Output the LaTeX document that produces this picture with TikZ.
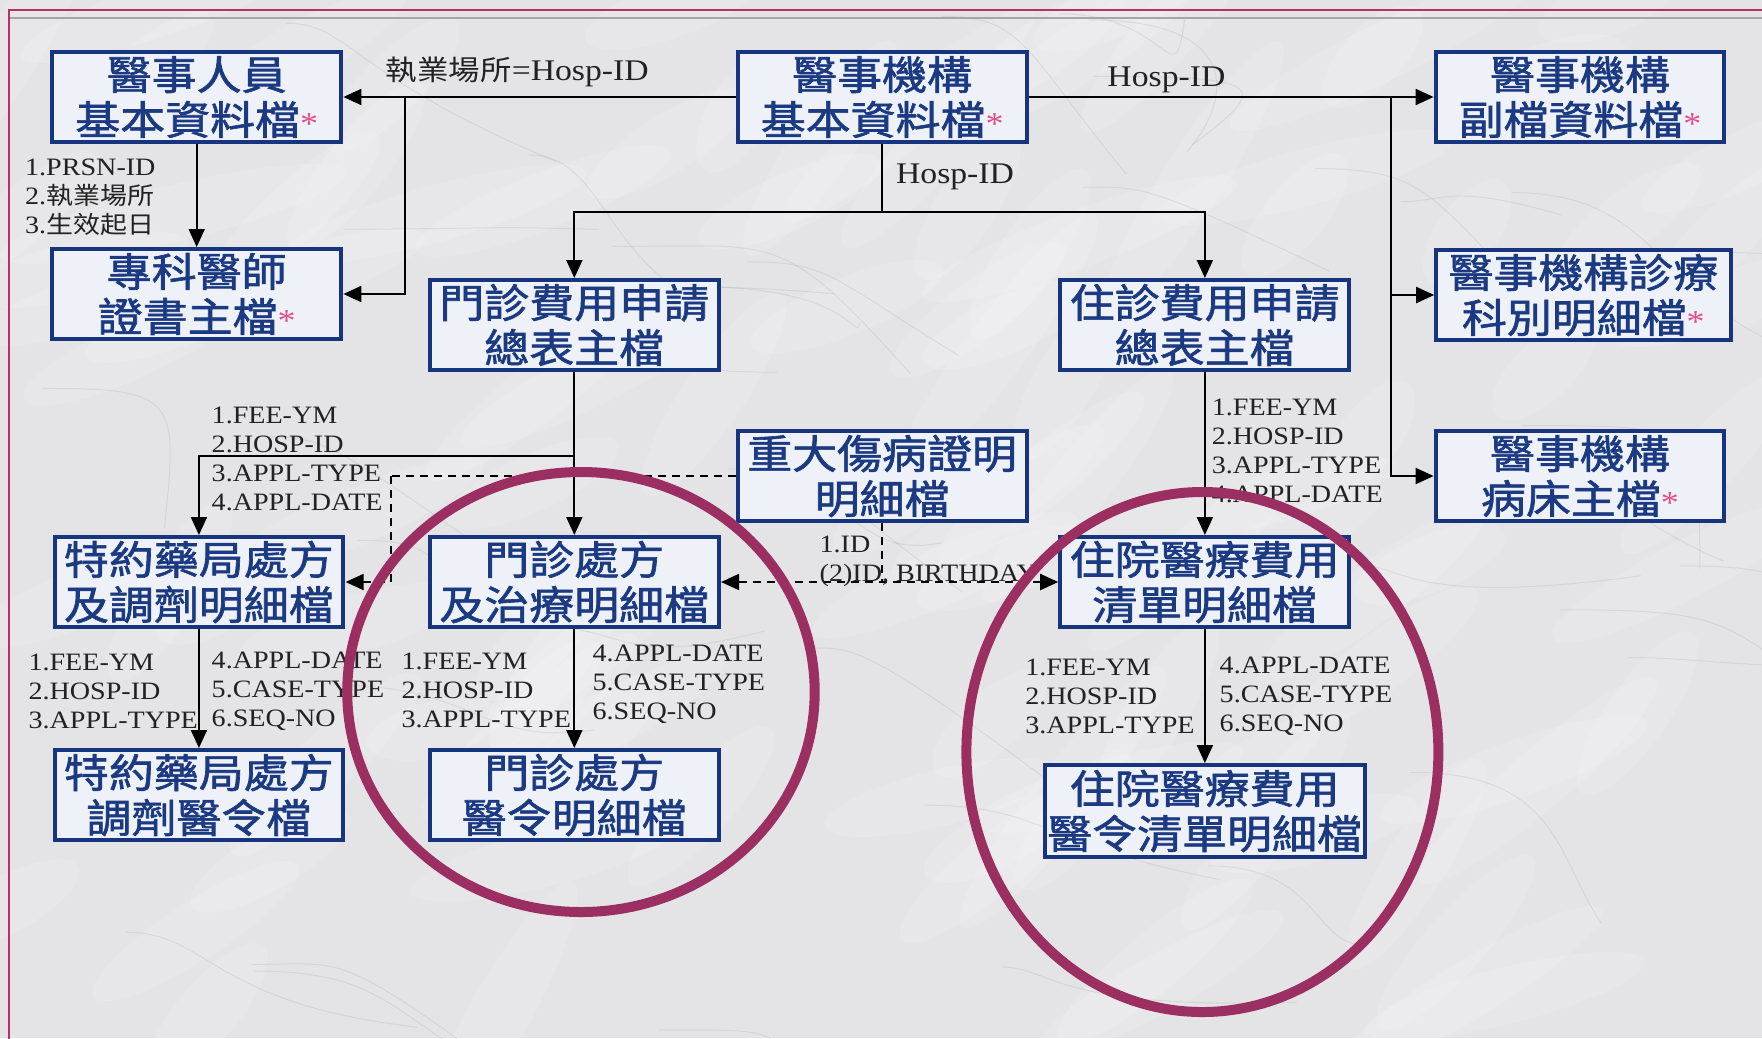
\documentclass[tikz,border=0pt]{standalone}
\usepackage{fontspec}
\usetikzlibrary{arrows.meta}
\setmainfont{Liberation Serif}
\newfontfamily\cjkb{Noto Sans CJK TC}[FakeBold=1.5]
\newfontfamily\cjkl{Noto Sans CJK TC}
\definecolor{boxblue}{HTML}{17357E}
\definecolor{boxfill}{HTML}{EEF2F8}
\definecolor{boxtext}{HTML}{1B3A82}
\definecolor{starpink}{HTML}{E0508A}
\definecolor{circcol}{HTML}{9B2F62}
\definecolor{bgcol}{HTML}{E4E4E7}
\definecolor{framecol}{HTML}{B8306A}
\definecolor{lblcol}{HTML}{222222}
\newcommand\pinkstar{{\color{starpink}\rmfamily\fontsize{16pt}{16pt}\selectfont *}}
\begin{document}
\begin{tikzpicture}[x=0.5pt,y=-0.5pt,xscale=1.1237,
  every node/.append style={transform shape},
  box/.style={draw=boxblue, line width=2pt, fill=boxfill, text=boxtext,
    font=\cjkb\fontsize{20pt}{22.5pt}\selectfont, align=center,
    minimum width=128.5pt, minimum height=45pt, inner sep=0pt},
  lbl/.style={font=\fontsize{12.5pt}{14.5pt}\selectfont, align=left,
    inner sep=0pt, anchor=west, text=lblcol},
  hid/.style={lbl, font=\fontsize{15pt}{17pt}\selectfont},
  conn/.style={draw=black, line width=1pt},
  arr/.style={conn, -{Triangle[length=9pt,width=8pt]}},
  arrb/.style={conn, {Triangle[length=9pt,width=8pt]}-{Triangle[length=9pt,width=8pt]}},
  dsh/.style={dash pattern=on 4pt off 3pt},
  circ/.style={draw=circcol, line width=5pt}]
\fill[bgcol] (0,0) rectangle (1568,1038);
\useasboundingbox (0,0) rectangle (1568,1038);
% marble texture
\pgfmathsetseed{11}
\foreach \i in {1,...,110}{
  \pgfmathsetmacro\xa{rnd*1568}
  \pgfmathsetmacro\ya{rnd*1038}
  \pgfmathsetmacro\ang{rnd*50+15}
  \pgfmathsetmacro\rx{rnd*50+30}
  \fill[white, opacity=0.14, rotate around={\ang:(\xa,\ya)}] (\xa,\ya) ellipse [x radius=\rx pt, y radius=14pt];
}
\foreach \i in {1,...,40}{
  \pgfmathsetmacro\xa{rnd*1568}
  \pgfmathsetmacro\ya{rnd*1038}
  \pgfmathsetmacro\xb{\xa+rnd*120+40}
  \pgfmathsetmacro\yb{\ya+rnd*120-20}
  \pgfmathsetmacro\xc{\xa+rnd*200+80}
  \pgfmathsetmacro\yc{\ya+rnd*160}
  \draw[gray, opacity=0.15, line width=0.5pt] (\xa,\ya) .. controls (\xb,\ya) and (\xb,\yb) .. (\xc,\yc);
}
\draw[framecol, line width=1.2pt] (8,1040) -- (8,10) -- (1570,10);
\draw[gray!70, line width=0.6pt] (9,18) -- (1570,18);
% boxes
\node[box] (rybase) at (175,97) {醫事人員\\基本資料檔\pinkstar};
\node[box] (jgbase) at (785,97) {醫事機構\\基本資料檔\pinkstar};
\node[box] (jgsub) at (1406,97) {醫事機構\\副檔資料檔\pinkstar};
\node[box] (zkys) at (175,294) {專科醫師\\證書主檔\pinkstar};
\node[box] (mzsum) at (511,325) {門診費用申請\\總表主檔};
\node[box] (zzsum) at (1072,325) {住診費用申請\\總表主檔};
\node[box, minimum width=131pt] (jgdept) at (1409,295) {醫事機構診療\\科別明細檔\pinkstar};
\node[box] (zdsb) at (785,476) {重大傷病證明\\明細檔};
\node[box] (jgbed) at (1406,476) {醫事機構\\病床主檔\pinkstar};
\node[box] (tyyj) at (177,582) {特約藥局處方\\及調劑明細檔};
\node[box] (mzcf) at (511,582) {門診處方\\及治療明細檔};
\node[box] (zyqd) at (1072,582) {住院醫療費用\\清單明細檔};
\node[box] (tyyl) at (177,795) {特約藥局處方\\調劑醫令檔};
\node[box] (mzyl) at (511,795) {門診處方\\醫令明細檔};
\node[box, minimum width=142.5pt, minimum height=46pt] (zyyl) at (1072,811) {住院醫療費用\\醫令清單明細檔};
% junctions
\coordinate (j1) at (360,97);
\coordinate (j2) at (1238,97);
\coordinate (j3) at (785,212);
\coordinate (j4) at (511,456);
\coordinate (d1) at (348,476);
\coordinate (d2) at (785,582);
% connectors
\draw[arr] (jgbase.west) -- (rybase.east);
\draw[arr] (j1) |- (zkys.east);
\draw[arr] (rybase.south) -- (zkys.north);
\draw[arr] (jgbase.east) -- (jgsub.west);
\draw[arr] (j2) |- (jgdept.west);
\draw[arr] (j2) |- (jgbed.west);
\draw[conn] (jgbase.south) -- (j3);
\draw[arr] (j3) -| (mzsum.north);
\draw[arr] (j3) -| (zzsum.north);
\draw[arr] (mzsum.south) -- (mzcf.north);
\draw[arr] (j4) -| (tyyj.north);
\draw[arr] (zzsum.south) -- (zyqd.north);
\draw[arr] (tyyj.south) -- (tyyl.north);
\draw[arr] (mzcf.south) -- (mzyl.north);
\draw[arr] (zyqd.south) -- (zyyl.north);
\draw[conn, dsh] (zdsb.west) -- (d1);
\draw[arr, dsh] (d1) |- (tyyj.east);
\draw[conn, dsh] (zdsb.south) -- (d2);
\draw[arrb, dsh] (mzcf.east) -- (zyqd.west);
% labels
\node[hid] (l1) at (343,72) {{\cjkl\fontsize{14pt}{16pt}\selectfont 執業場所}=Hosp-ID};
\node[hid, anchor=center] (l2) at (1038,80) {Hosp-ID};
\node[hid] (l3) at (797,177) {Hosp-ID};
\node[lbl] (l4) at (22,197) {1.PRSN-ID\\2.{\cjkl\fontsize{12pt}{14.5pt}\selectfont 執業場所}\\3.{\cjkl\fontsize{12pt}{14.5pt}\selectfont 生效起日}};
\node[lbl] (l5) at (188,459) {1.FEE-YM\\2.HOSP-ID\\3.APPL-TYPE\\4.APPL-DATE};
\node[lbl] (l6) at (1078,451) {1.FEE-YM\\2.HOSP-ID\\3.APPL-TYPE\\4.APPL-DATE};
\node[lbl] (l7) at (729,561) {1.ID\\(2)ID, BIRTHDAY};
\node[lbl] (l8) at (25,691) {1.FEE-YM\\2.HOSP-ID\\3.APPL-TYPE};
\node[lbl] (l9) at (188,691) {4.APPL-DATE\\5.CASE-TYPE\\6.SEQ-NO};
\node[lbl] (l10) at (357,690) {1.FEE-YM\\2.HOSP-ID\\3.APPL-TYPE};
\node[lbl] (l11) at (527,684) {4.APPL-DATE\\5.CASE-TYPE\\6.SEQ-NO};
\node[lbl] (l12) at (912,696) {1.FEE-YM\\2.HOSP-ID\\3.APPL-TYPE};
\node[lbl] (l13) at (1085,696) {4.APPL-DATE\\5.CASE-TYPE\\6.SEQ-NO};
% circles
\draw[circ] (517,692) ellipse [x radius=104pt, y radius=110pt];
\draw[circ] (1070,752) ellipse [x radius=105pt, y radius=130pt];
\end{tikzpicture}
\end{document}
